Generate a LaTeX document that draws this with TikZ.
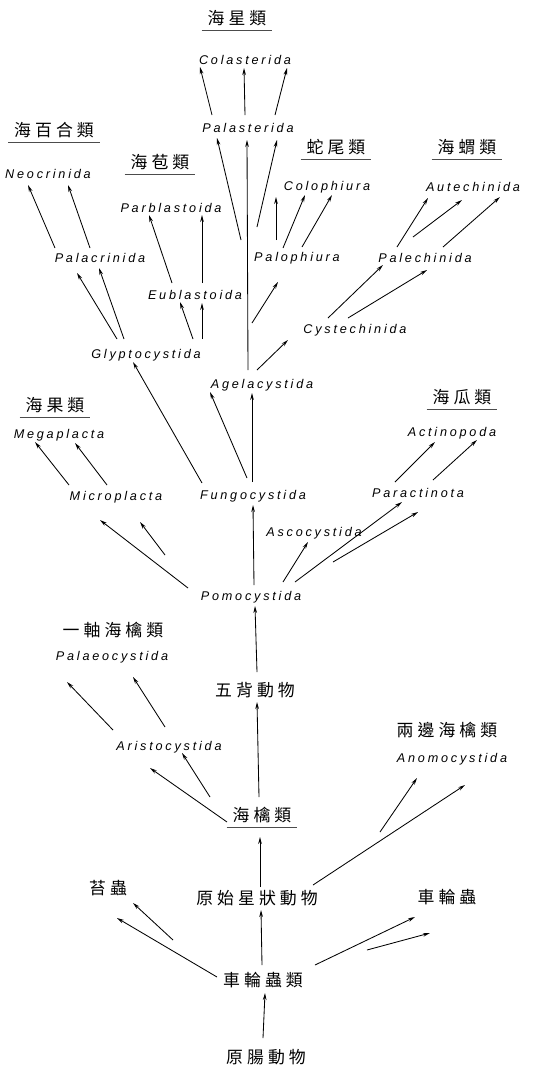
\documentclass[tikz,border=0pt]{standalone}
\usepackage{fontspec}
\setmainfont{Liberation Sans}
\newfontfamily\cjk[LetterSpace=24]{Noto Sans CJK TC}
\newfontfamily\lat[LetterSpace=22]{Liberation Sans}
\usetikzlibrary{arrows.meta,calc}

\begin{document}
\begin{tikzpicture}[x=0.025cm,y=-0.025cm,>={Stealth[length=5pt,width=2.6pt]},
    taxon/.style={font=\lat\itshape\fontsize{9}{10}\selectfont,inner sep=1pt},
    grp/.style={font=\cjk\fontsize{12}{14}\selectfont,inner sep=1pt},
    arr/.style={->,line width=0.6pt},
    uline/.style={line width=0.5pt,black!70}]
    \useasboundingbox (0,0) rectangle (535,1067);

    % Upper groups
    \node[grp] (hx) at (237,18) {海星類};
    \node[taxon] (cola) at (245,60) {Colasterida};
    \node[taxon] (pala) at (248,128) {Palasterida};
    \node[grp] (hbh) at (54,130) {海百合類};
    \node[taxon] (neo) at (48,174) {Neocrinida};
    \node[grp] (hpb) at (160,162) {海苞類};
    \node[taxon] (parb) at (171,208) {Parblastoida};
    \node[grp] (sw) at (336,147) {蛇尾類};
    \node[taxon] (colo) at (327,187) {Colophiura};
    \node[grp] (hw) at (467,147) {海蝟類};
    \node[taxon] (aute) at (473,187) {Autechinida};
    \node[taxon] (palc) at (100,258) {Palacrinida};
    \node[taxon] (palo) at (297,258) {Palophiura};
    \node[taxon] (pale) at (425,258) {Palechinida};
    \node[taxon] (eubl) at (195,295) {Eublastoida};
    \node[taxon] (cyse) at (355,330) {Cystechinida};
    \node[taxon] (glyp) at (146,355) {Glyptocystida};
    \node[taxon] (agel) at (262,385) {Agelacystida};
    \node[grp] (hg) at (55,405) {海果類};
    \node[taxon] (mega) at (59,435) {Megaplacta};
    \node[grp] (hgua) at (462,397) {海瓜類};
    \node[taxon] (acti) at (452,433) {Actinopoda};
    \node[taxon] (micr) at (116,497) {Microplacta};
    \node[taxon] (fung) at (253,496) {Fungocystida};
    \node[taxon] (para) at (418,493) {Paractinota};
    \node[taxon] (asco) at (314,533) {Ascocystida};
    \node[taxon] (pomo) at (251,597) {Pomocystida};

    % Lower part
    \node[grp] (yz) at (113,630) {一軸海檎類};
    \node[taxon] (palae) at (112,657) {Palaeocystida};
    \node[grp] (wb) at (255,690) {五背動物};
    \node[grp] (lb) at (447,730) {兩邊海檎類};
    \node[taxon] (anom) at (452,759) {Anomocystida};
    \node[taxon] (aris) at (169,747) {Aristocystida};
    \node[grp] (hq) at (262,815) {海檎類};
    \node[grp] (taic) at (108,888) {苔蟲};
    \node[grp] (ysx) at (257,898) {原始星狀動物};
    \node[grp] (clc) at (447,897) {車輪蟲};
    \node[grp] (clcl) at (263,980) {車輪蟲類};
    \node[grp] (ycd) at (266,1057) {原腸動物};

    \foreach \g in {hx,hbh,hpb,sw,hw,hg,hgua,hq}
        \draw[uline] ([xshift=-3pt,yshift=-2pt]\g.south west) -- ([xshift=3pt,yshift=-2pt]\g.south east);

    % to Colasterida and Palasterida
    \draw[arr] ($(pala)+(-36,-13)$) -- ($(cola)+(-45,7)$);
    \draw[arr] ($(pala)+(-3,-13)$) -- ($(cola)+(-1,8)$);
    \draw[arr] ($(pala)+(27,-13)$) -- ($(cola)+(42,8)$);
    \draw[arr] ($(agel)+(-21,-145)$) -- ($(pala)+(-31,10)$);
    \draw[arr] ($(agel)+(-14,-15)$) -- ($(pala)+(-1,12)$);
    \draw[arr] ($(palo)+(-40,-31)$) -- ($(pala)+(29,12)$);

    % crinoids
    \draw[arr] ($(palc)+(-45,-10)$) -- ($(neo)+(-20,11)$);
    \draw[arr] ($(palc)+(-10,-10)$) -- ($(neo)+(20,11)$);
    \draw[arr] ($(glyp)+(-29,-16)$) -- ($(palc)+(-23,15)$);
    \draw[arr] ($(glyp)+(-22,-16)$) -- ($(palc)+(-1,10)$);

    % blastoids
    \draw[arr] ($(eubl)+(-23,-12)$) -- ($(parb)+(-22,7)$);
    \draw[arr] ($(eubl)+(7,-12)$) -- ($(parb)+(31,7)$);
    \draw[arr] ($(glyp)+(47,-16)$) -- ($(eubl)+(-15,7)$);
    \draw[arr] ($(glyp)+(56,-16)$) -- ($(eubl)+(7,8)$);

    % ophiuroids
    \draw[arr] ($(palo)+(-21,-18)$) -- ($(colo)+(-51,10)$);
    \draw[arr] ($(palo)+(-14,-10)$) -- ($(colo)+(-22,8)$);
    \draw[arr] ($(palo)+(5,-11)$) -- ($(colo)+(5,8)$);
    \draw[arr] ($(agel)+(-10,-62)$) -- ($(palo)+(-19,24)$);

    % echinoids
    \draw[arr] ($(pale)+(-28,-11)$) -- ($(aute)+(-45,11)$);
    \draw[arr] ($(pale)+(-12,-21)$) -- ($(aute)+(-11,13)$);
    \draw[arr] ($(pale)+(18,-11)$) -- ($(aute)+(27,10)$);
    \draw[arr] ($(cyse)+(-27,-12)$) -- ($(pale)+(-42,7)$);
    \draw[arr] ($(cyse)+(-7,-12)$) -- ($(pale)+(2,12)$);
    \draw[arr] ($(agel)+(-5,-15)$) -- ($(cyse)+(-67,10)$);

    % from Fungocystida
    \draw[arr] ($(fung)+(-51,-13)$) -- ($(glyp)+(-13,7)$);
    \draw[arr] ($(fung)+(-6,-18)$) -- ($(agel)+(-52,7)$);
    \draw[arr] ($(fung)+(-1,-14)$) -- ($(agel)+(-10,8)$);

    % carpoids
    \draw[arr] ($(micr)+(-47,-12)$) -- ($(mega)+(-24,7)$);
    \draw[arr] ($(micr)+(-9,-12)$) -- ($(mega)+(16,8)$);
    \draw[arr] ($(pomo)+(-63,-9)$) -- ($(micr)+(-16,23)$);
    \draw[arr] ($(micr)+(49,58)$) -- ($(micr)+(24,25)$);

    % holothurians
    \draw[arr] ($(para)+(-23,-11)$) -- ($(acti)+(-17,9)$);
    \draw[arr] ($(para)+(15,-13)$) -- ($(acti)+(25,7)$);
    \draw[arr] ($(pomo)+(44,-15)$) -- ($(para)+(-16,9)$);
    \draw[arr] ($(asco)+(19,29)$) -- ($(para)+(0,19)$);
    \draw[arr] ($(pomo)+(32,-15)$) -- ($(asco)+(-6,9)$);
    \draw[arr] ($(pomo)+(3,-12)$) -- ($(fung)+(0,9)$);

    % cystoids
    \draw[arr] ($(wb)+(2,-18)$) -- ($(pomo)+(4,9)$);
    \draw[arr] ($(aris)+(-56,-17)$) -- ($(palae)+(-45,25)$);
    \draw[arr] ($(aris)+(-4,-20)$) -- ($(palae)+(21,20)$);
    \draw[arr] ($(hq)+(-35,7)$) -- ($(aris)+(-19,21)$);
    \draw[arr] ($(hq)+(-52,-18)$) -- ($(aris)+(13,6)$);
    \draw[arr] ($(hq)+(-3,-18)$) -- ($(wb)+(2,12)$);
    \draw[arr] ($(ysx)+(56,-13)$) -- ($(anom)+(13,26)$);
    \draw[arr] ($(anom)+(-72,73)$) -- ($(anom)+(-35,19)$);

    % stem
    \draw[arr] ($(ysx)+(3,-11)$) -- ($(hq)+(-2,22)$);
    \draw[arr] ($(clcl)+(-1,-15)$) -- ($(ysx)+(4,12)$);
    \draw[arr] ($(ycd)+(-3,-19)$) -- ($(clcl)+(2,13)$);
    \draw[arr] ($(clcl)+(-46,-3)$) -- ($(taic)+(9,30)$);
    \draw[arr] ($(taic)+(65,52)$) -- ($(taic)+(25,15)$);
    \draw[arr] ($(clcl)+(52,-15)$) -- ($(clc)+(-32,20)$);
    \draw[arr] ($(clc)+(-80,53)$) -- ($(clc)+(-17,36)$);
\end{tikzpicture}
\end{document}
